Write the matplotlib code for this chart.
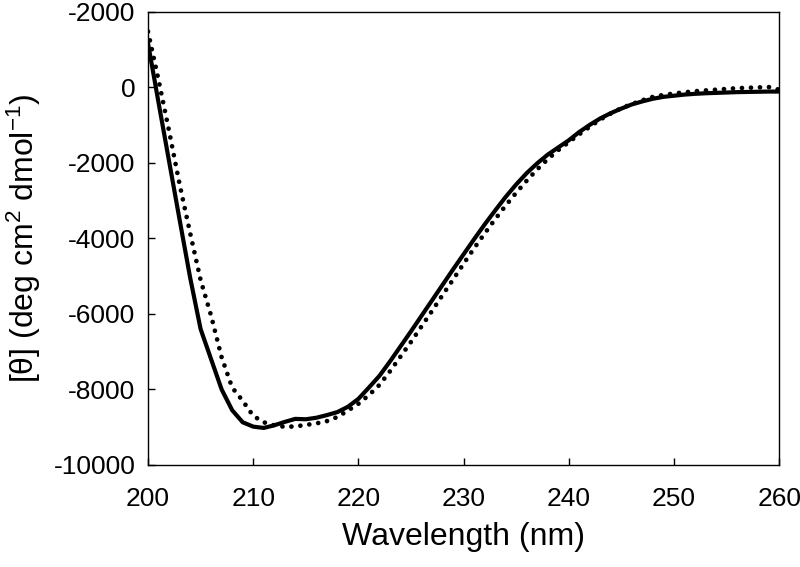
import matplotlib
matplotlib.use("Agg")
import matplotlib.pyplot as plt

plt.rcParams["font.family"] = ["Liberation Sans", "DejaVu Sans"]
plt.rcParams["mathtext.fontset"] = "custom"
plt.rcParams["mathtext.rm"] = "Liberation Sans"
plt.rcParams["mathtext.default"] = "regular"

# ==============================================
# = Data              =
# ==============================================
wavelength = list(range(200, 261))

theta_solid = [
    1170, -400, -1950, -3500, -5030, -6400, -7200, -8000, -8550, -8870,
    -8985, -9020, -8950, -8860, -8780, -8790, -8750, -8680, -8600, -8460,
    -8250, -7950, -7640, -7260, -6860, -6460, -6050, -5640, -5230, -4820,
    -4420, -4020, -3630, -3260, -2900, -2570, -2270, -2010, -1780, -1590,
    -1400, -1180, -990, -820, -680, -560, -450, -370, -300, -250,
    -220, -190, -170, -155, -145, -135, -125, -120, -115, -110,
    -110,
]

theta_dotted = [
    1480, 200, -1150, -2560, -3850, -5100, -6050, -7150, -7950, -8300,
    -8700, -8870, -8950, -8990, -8980, -8940, -8900, -8840, -8730, -8560,
    -8380, -8150, -7880, -7520, -7130, -6740, -6330, -5920, -5500, -5090,
    -4670, -4260, -3870, -3490, -3130, -2790, -2470, -2170, -1900, -1660,
    -1450, -1240, -1040, -850, -690, -550, -440, -340, -250, -200,
    -160, -130, -100, -80, -60, -40, -20, -10, 0, 10,
    -60,
]

x_ticks = [200, 210, 220, 230, 240, 250, 260]
y_ticks = [2000, 0, -2000, -4000, -6000, -8000, -10000]
y_tick_labels = ["-2000", "0", "-2000", "-4000", "-6000", "-8000", "-10000"]


def main():
    fig = plt.figure(figsize=(8, 5.67), dpi=100)
    ax = fig.add_axes([0.185, 0.180, 0.789, 0.799])

    ax.plot(wavelength, theta_dotted, color="black", lw=3.4,
            linestyle=(0, (0.01, 1.9)), dash_capstyle="round")
    ax.plot(wavelength, theta_solid, color="black", lw=3.0,
            solid_capstyle="round", solid_joinstyle="round")

    ax.set_xlim(200, 260)
    ax.set_ylim(-10000, 2000)
    ax.set_xticks(x_ticks)
    ax.set_yticks(y_ticks)
    ax.set_yticklabels(y_tick_labels)

    ax.tick_params(direction="in", length=5, width=1, labelsize=19,
                   top=False, right=False)
    ax.tick_params(axis="x", pad=16)
    ax.tick_params(axis="y", pad=9)
    for sp in ax.spines.values():
        sp.set_linewidth(1.0)

    ax.set_xlabel("Wavelength (nm)", fontsize=23, labelpad=8)
    ax.set_ylabel("[\u03b8] (deg cm$^{2}$ dmol$^{-1}$)", fontsize=23, labelpad=8)

    fig.savefig("out.png", dpi=100)


if __name__ == "__main__":
    main()
